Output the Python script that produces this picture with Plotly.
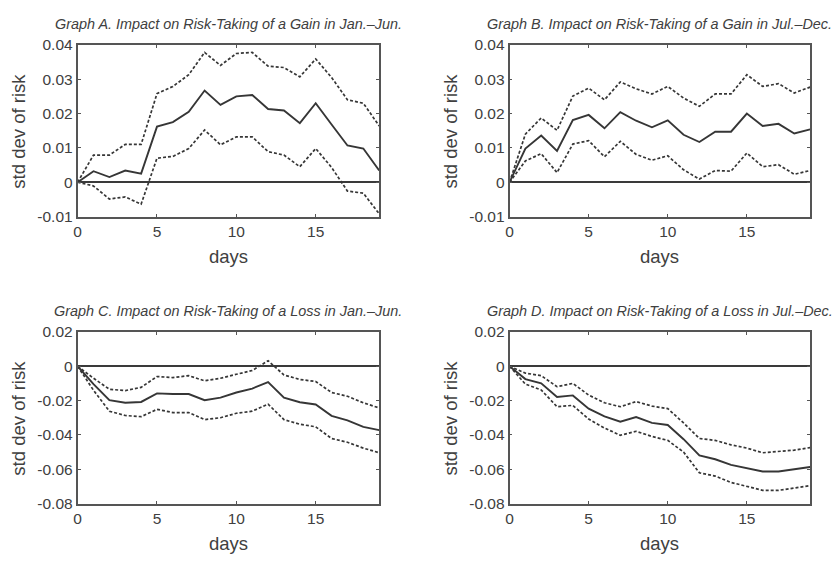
import plotly.graph_objects as go

days = list(range(20))

titles = [
    "Graph A. Impact on Risk-Taking of a Gain in Jan.–Jun.",
    "Graph B. Impact on Risk-Taking of a Gain in Jul.–Dec.",
    "Graph C. Impact on Risk-Taking of a Loss in Jan.–Jun.",
    "Graph D. Impact on Risk-Taking of a Loss in Jul.–Dec.",
]

a_mid = [0, 0.0032, 0.0015, 0.0034, 0.0025, 0.0162, 0.0175, 0.0205, 0.0267, 0.0225,
         0.0250, 0.0254, 0.0213, 0.0209, 0.0172, 0.0230, 0.0168, 0.0107, 0.0098, 0.0034]
a_up = [0, 0.0079, 0.0079, 0.0110, 0.0110, 0.0258, 0.0279, 0.0313, 0.0378, 0.0340,
        0.0375, 0.0378, 0.0338, 0.0334, 0.0307, 0.0359, 0.0305, 0.0240, 0.0230, 0.0164]
a_lo = [0, -0.0011, -0.0049, -0.0043, -0.0064, 0.0070, 0.0075, 0.0098, 0.0152, 0.0109,
        0.0132, 0.0132, 0.0089, 0.0079, 0.0045, 0.0098, 0.0043, -0.0026, -0.0032, -0.0092]

b_mid = [0, 0.0098, 0.0136, 0.0091, 0.0181, 0.0196, 0.0157, 0.0204, 0.0179, 0.0160,
         0.0180, 0.0138, 0.0117, 0.0147, 0.0147, 0.0200, 0.0164, 0.0170, 0.0142, 0.0154]
b_up = [0, 0.0140, 0.0187, 0.0151, 0.0251, 0.0274, 0.0240, 0.0292, 0.0272, 0.0257,
        0.0279, 0.0245, 0.0221, 0.0257, 0.0257, 0.0313, 0.0279, 0.0287, 0.0260, 0.0277]
b_lo = [0, 0.0062, 0.0083, 0.0028, 0.0111, 0.0121, 0.0074, 0.0119, 0.0081, 0.0064,
        0.0077, 0.0036, 0.0009, 0.0034, 0.0032, 0.0085, 0.0045, 0.0051, 0.0023, 0.0034]

c_mid = [0, -0.0104, -0.0198, -0.0213, -0.0208, -0.0158, -0.0162, -0.0162, -0.0198, -0.0183,
         -0.0153, -0.0130, -0.0092, -0.0183, -0.0210, -0.0223, -0.0289, -0.0315, -0.0353, -0.0372]
c_up = [0, -0.0070, -0.0134, -0.0142, -0.0123, -0.0060, -0.0066, -0.0055, -0.0085, -0.0070,
        -0.0047, -0.0025, 0.0032, -0.0051, -0.0077, -0.0089, -0.0153, -0.0175, -0.0213, -0.0243]
c_lo = [0, -0.0140, -0.0262, -0.0287, -0.0294, -0.0251, -0.0270, -0.0270, -0.0311, -0.0300,
        -0.0274, -0.0262, -0.0221, -0.0311, -0.0338, -0.0353, -0.0421, -0.0443, -0.0477, -0.0504]

d_mid = [0, -0.0075, -0.0100, -0.0179, -0.0170, -0.0247, -0.0292, -0.0323, -0.0296, -0.0330,
         -0.0342, -0.0425, -0.0519, -0.0542, -0.0575, -0.0594, -0.0613, -0.0613, -0.0602, -0.0587]
d_up = [0, -0.0040, -0.0055, -0.0119, -0.0100, -0.0168, -0.0213, -0.0236, -0.0206, -0.0232,
        -0.0247, -0.0330, -0.0421, -0.0432, -0.0458, -0.0477, -0.0504, -0.0496, -0.0489, -0.0474]
d_lo = [0, -0.0104, -0.0138, -0.0236, -0.0228, -0.0308, -0.0360, -0.0402, -0.0379, -0.0409,
        -0.0432, -0.0500, -0.0621, -0.0640, -0.0677, -0.0700, -0.0723, -0.0723, -0.0711, -0.0696]

y_ranges = [[-0.01, 0.04], [-0.01, 0.04], [-0.08, 0.02], [-0.08, 0.02]]
y_ticks = [[-0.01, 0, 0.01, 0.02, 0.03, 0.04], [-0.01, 0, 0.01, 0.02, 0.03, 0.04],
           [-0.08, -0.06, -0.04, -0.02, 0, 0.02], [-0.08, -0.06, -0.04, -0.02, 0, 0.02]]
y_ticktext = [["-0.01", "0", "0.01", "0.02", "0.03", "0.04"], ["-0.01", "0", "0.01", "0.02", "0.03", "0.04"],
              ["-0.08", "-0.06", "-0.04", "-0.02", "0", "0.02"], ["-0.08", "-0.06", "-0.04", "-0.02", "0", "0.02"]]
x_ticks = [0, 5, 10, 15]

panels = [(a_mid, a_up, a_lo), (b_mid, b_up, b_lo), (c_mid, c_up, c_lo), (d_mid, d_up, d_lo)]

W, H = 835, 561
# pixel boxes (left, right, top, bottom)
boxes = [(74, 377, 37, 214), (508, 810, 37, 214), (74, 377, 333, 510), (508, 810, 333, 510)]

LINE = "#363636"
TXT = "#404040"
AX = "#555555"
FONT = "Liberation Sans, Arial, sans-serif"

fig = go.Figure()
layout = dict(width=W, height=H, margin=dict(l=0, r=0, t=0, b=0),
              plot_bgcolor="white", paper_bgcolor="white", showlegend=False,
              font=dict(family=FONT, color=TXT, size=15))
annotations = []

for i, ((mid, up, lo), (l, r, t, b)) in enumerate(zip(panels, boxes)):
    n = i + 1
    xa = "x" if n == 1 else f"x{n}"
    ya = "y" if n == 1 else f"y{n}"
    for series, dash, w in ((up, "3px,2px", 1.7), (lo, "3px,2px", 1.7), (mid, "solid", 1.9)):
        fig.add_trace(go.Scatter(x=days, y=series, mode="lines", xaxis=xa, yaxis=ya,
                                 line=dict(color=LINE, width=w, dash=dash)))
    xd = [l / W, r / W]
    yd = [1 - b / H, 1 - t / H]
    common = dict(showgrid=False, showline=True, linecolor=AX, linewidth=1.8, mirror="ticks",
                  ticks="inside", ticklen=3, tickwidth=1, tickcolor=AX,
                  tickfont=dict(size=15.5, color=TXT, family=FONT))
    layout["xaxis" if n == 1 else f"xaxis{n}"] = dict(
        domain=xd, range=[0, 19], tickvals=x_ticks, anchor=ya, zeroline=False, **common)
    layout["yaxis" if n == 1 else f"yaxis{n}"] = dict(
        domain=yd, range=y_ranges[i], tickvals=y_ticks[i], ticktext=y_ticktext[i], anchor=xa,
        zeroline=True, zerolinecolor="#3a3a3a", zerolinewidth=1.8, **common)
    cx = (l + r) / 2 / W
    annotations.append(dict(text=titles[i], x=cx, y=1 - (t - 22) / H, xref="paper", yref="paper",
                            showarrow=False, xanchor="center", yanchor="middle",
                            font=dict(size=14.4, style="italic", color=TXT, family=FONT)))
    annotations.append(dict(text="days", x=cx, y=1 - (b + 41) / H, xref="paper", yref="paper",
                            showarrow=False, xanchor="center", yanchor="middle",
                            font=dict(size=18.5, color=TXT, family=FONT)))
    annotations.append(dict(text="std dev of risk", x=(l - 59) / W, y=1 - (t + b) / 2 / H,
                            xref="paper", yref="paper", showarrow=False, textangle=-90,
                            xanchor="center", yanchor="middle",
                            font=dict(size=18.5, color=TXT, family=FONT)))

layout["annotations"] = annotations
fig.update_layout(**layout)
fig.write_html("out.html")
